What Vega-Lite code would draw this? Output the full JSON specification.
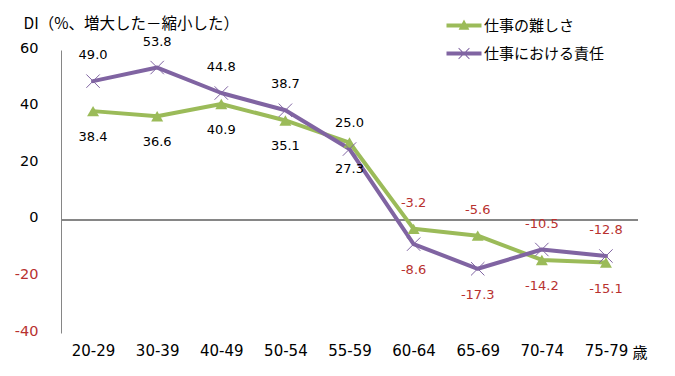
{
  "$schema": "https://vega.github.io/schema/vega-lite/v6.json",
  "width": 577,
  "height": 283,
  "autosize": "none",
  "padding": {"left": 61, "top": 50, "right": 37, "bottom": 43},
  "background": "white",
  "config": {
    "view": {"stroke": null},
    "font": "DejaVu Sans",
    "locale": {"number": {"decimal": ".", "thousands": ",", "grouping": [3], "currency": ["$", ""], "minus": "-"}}
  },
  "data": {
    "values": [
      {"age": "20-29", "series": "仕事の難しさ", "value": 38.4},
      {"age": "30-39", "series": "仕事の難しさ", "value": 36.6},
      {"age": "40-49", "series": "仕事の難しさ", "value": 40.9},
      {"age": "50-54", "series": "仕事の難しさ", "value": 35.1},
      {"age": "55-59", "series": "仕事の難しさ", "value": 27.3},
      {"age": "60-64", "series": "仕事の難しさ", "value": -3.2},
      {"age": "65-69", "series": "仕事の難しさ", "value": -5.6},
      {"age": "70-74", "series": "仕事の難しさ", "value": -14.2},
      {"age": "75-79", "series": "仕事の難しさ", "value": -15.1},
      {"age": "20-29", "series": "仕事における責任", "value": 49.0},
      {"age": "30-39", "series": "仕事における責任", "value": 53.8},
      {"age": "40-49", "series": "仕事における責任", "value": 44.8},
      {"age": "50-54", "series": "仕事における責任", "value": 38.7},
      {"age": "55-59", "series": "仕事における責任", "value": 25.0},
      {"age": "60-64", "series": "仕事における責任", "value": -8.6},
      {"age": "65-69", "series": "仕事における責任", "value": -17.3},
      {"age": "70-74", "series": "仕事における責任", "value": -10.5},
      {"age": "75-79", "series": "仕事における責任", "value": -12.8}
    ]
  },
  "encoding": {
    "x": {
      "field": "age",
      "type": "ordinal",
      "sort": null,
      "axis": {
        "title": "歳",
        "domain": false,
        "ticks": false,
        "labelPadding": 10,
        "labelFontSize": 15,
        "labelFont": "DejaVu Sans",
        "labelAngle": 0,
        "labelColor": "black",
        "titleX": 571,
        "titleY": 19,
        "titleAlign": "left",
        "titleBaseline": "middle",
        "titleFontWeight": "normal",
        "titleFontSize": 15,
        "titleFont": "Noto Sans CJK JP",
        "titleColor": "black"
      }
    },
    "y": {
      "field": "value",
      "type": "quantitative",
      "scale": {"domain": [-40, 60], "nice": false, "zero": false},
      "axis": {
        "title": "DI（%、増大した－縮小した）",
        "titleAngle": 0,
        "titleX": -38,
        "titleY": -27,
        "titleAlign": "left",
        "titleBaseline": "middle",
        "titleFontSize": 15.5,
        "titleFontWeight": "normal",
        "titleFont": "Noto Sans CJK JP",
        "titleColor": "black",
        "values": [-40, -20, 0, 20, 40, 60],
        "grid": false,
        "ticks": false,
        "domainColor": "#868686",
        "labelPadding": 23,
        "labelFontSize": 14.5,
        "labelFont": "DejaVu Sans",
        "labelOffset": -2,
        "labelColor": {"condition": {"test": "datum.value < 0", "value": "#B8312F"}, "value": "black"}
      }
    }
  },
  "layer": [
    {
      "mark": {"type": "rule", "color": "#868686", "strokeWidth": 1},
      "encoding": {"y": {"datum": 0}, "x": null}
    },
    {
      "mark": {"type": "line", "strokeWidth": 4, "strokeJoin": "round", "strokeCap": "round"},
      "encoding": {
        "color": {
          "field": "series",
          "type": "nominal",
          "sort": ["仕事の難しさ", "仕事における責任"],
          "scale": {"domain": ["仕事の難しさ", "仕事における責任"], "range": ["#9BBB59", "#8064A2"]},
          "legend": {
            "title": null,
            "orient": "none",
            "legendX": 395.5,
            "legendY": -32,
            "direction": "vertical",
            "labelFontSize": 15,
            "labelFont": "Noto Sans CJK JP",
            "labelColor": "black",
            "symbolSize": 144,
            "rowPadding": 12,
            "labelOffset": 12.5,
            "padding": 0,
            "symbolOffset": 0,
            "encode": {
              "symbols": {
                "update": {
                  "shape": {"signal": "datum.value === '仕事の難しさ' ? 'M-2.917,-0.333H2.917V0.333H-2.917Z M0,-1L0.9,0.7L-0.9,0.7Z' : 'M-2.917,-0.333H2.917V0.333H-2.917Z M-0.85,-0.95L0.95,0.85L0.85,0.95L-0.95,-0.85Z M-0.95,0.85L0.85,-0.95L0.95,-0.85L-0.85,0.95Z'"},
                  "fill": {"signal": "datum.value === '仕事の難しさ' ? '#9BBB59' : '#8064A2'"},
                  "strokeWidth": {"value": 0},
                  "opacity": {"value": 1}
                }
              }
            }
          }
        }
      }
    },
    {
      "transform": [{"filter": "datum.series === '仕事の難しさ'"}],
      "mark": {"type": "point", "shape": "triangle-up", "filled": true, "size": 144, "color": "#9BBB59", "opacity": 1}
    },
    {
      "transform": [{"filter": "datum.series === '仕事における責任'"}],
      "mark": {"type": "point", "shape": "M-1,-1L1,1M-1,1L1,-1", "filled": false, "size": 180, "color": "#8064A2", "strokeWidth": 1, "opacity": 1}
    },
    {
      "transform": [{"filter": "(datum.series === '仕事における責任' && indexof(['60-64','65-69'], datum.age) < 0) || (datum.series === '仕事の難しさ' && indexof(['60-64','65-69'], datum.age) >= 0)"}],
      "mark": {"type": "text", "dy": -26, "fontSize": 13, "font": "DejaVu Sans", "baseline": "middle", "align": "center"},
      "encoding": {
        "text": {"field": "value", "type": "quantitative", "format": ".1f"},
        "color": {"condition": {"test": "datum.value < 0", "value": "#B8312F"}, "value": "black"}
      }
    },
    {
      "transform": [{"filter": "!((datum.series === '仕事における責任' && indexof(['60-64','65-69'], datum.age) < 0) || (datum.series === '仕事の難しさ' && indexof(['60-64','65-69'], datum.age) >= 0))"}],
      "mark": {"type": "text", "dy": 26, "fontSize": 13, "font": "DejaVu Sans", "baseline": "middle", "align": "center"},
      "encoding": {
        "text": {"field": "value", "type": "quantitative", "format": ".1f"},
        "color": {"condition": {"test": "datum.value < 0", "value": "#B8312F"}, "value": "black"}
      }
    }
  ]
}
